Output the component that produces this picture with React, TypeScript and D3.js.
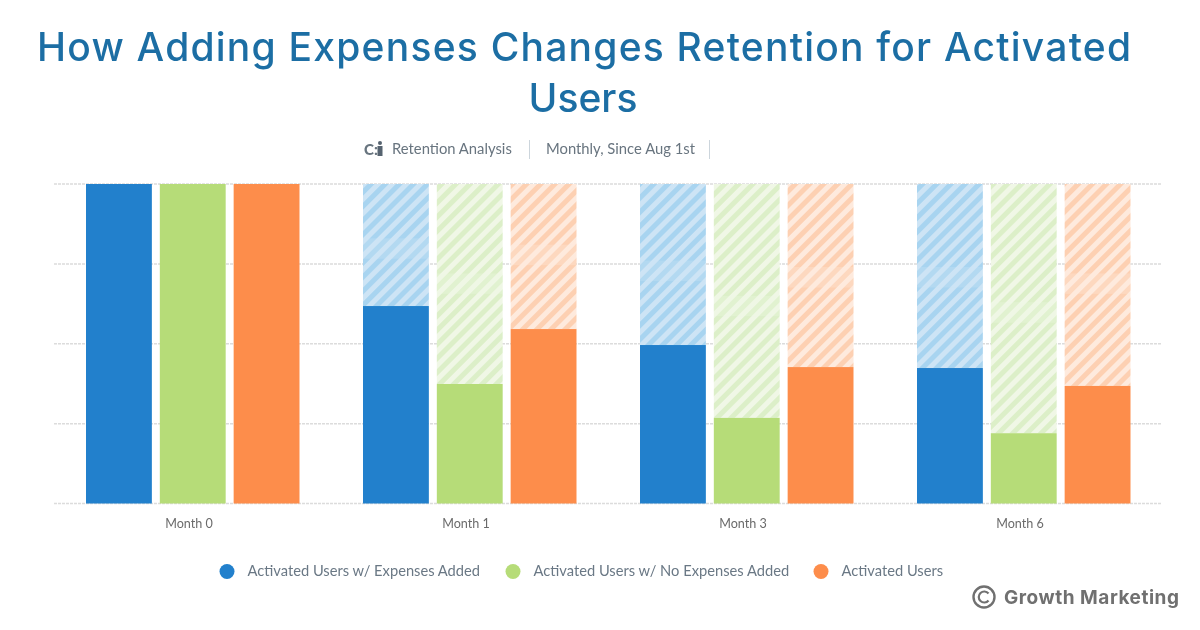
import React from "react";
import * as d3 from "d3";

const months = ["Month 0", "Month 1", "Month 3", "Month 6"];
const seriesNames = [
  "Activated Users w/ Expenses Added",
  "Activated Users w/ No Expenses Added",
  "Activated Users",
];
const seriesColors = ["#2080cc", "#b6dc78", "#fd8d4b"];
const stripeColors = ["#a8d4f0", "#dcefc8", "#fdd0b2"];
const stripeBg = ["#cde4f5", "#f0f7e6", "#feeadd"];
const expensesAdded = [100, 61.8, 49.6, 42.4];
const noExpensesAdded = [100, 37.4, 26.8, 22];
const activatedUsers = [100, 54.6, 42.7, 36.8];
const seriesValues = [expensesAdded, noExpensesAdded, activatedUsers];
// faint retouched bands seen inside the hatched parts (value at band top)
const seamExpenses = [0, 83, 76, 74];
const seamNoExpenses = [0, 72, 65, 63];
const seamActivated = [0, 81, 74, 72];
const seamValues = [seamExpenses, seamNoExpenses, seamActivated];
const seamHeight = 6.4;
const gridValues = [0, 25, 50, 75, 100];
const legendX = [227, 513, 821];

const FONT = "Lato, 'Open Sans', sans-serif";
const TITLE_FONT = "Inter, Lato, sans-serif";

export default function App() {
  const x = d3.scaleBand<string>().domain(months).range([54, 1162]);
  const y = d3.scaleLinear().domain([0, 100]).range([503.5, 184]);
  const inner = d3
    .scaleBand<string>()
    .domain(seriesNames)
    .range([0, 213.5])
    .paddingInner(0.108)
    .paddingOuter(0);

  return (
    <svg
      width={1200}
      height={630}
      viewBox="0 0 1200 630"
      style={{ position: "absolute", left: 0, top: 0, background: "#fff" }}
    >
      <defs>
        {seriesColors.map((_, i) => (
          <pattern
            key={i}
            id={`hatch${i}`}
            width={10}
            height={10}
            patternUnits="userSpaceOnUse"
            patternTransform="rotate(45)"
          >
            <rect width={10} height={10} fill={stripeBg[i]} />
            <rect width={5} height={10} fill={stripeColors[i]} />
          </pattern>
        ))}
        <filter id="soft" x="0" y="0" width="1200" height="630" filterUnits="userSpaceOnUse">
          <feGaussianBlur stdDeviation="0.45" />
        </filter>
      </defs>

      <g filter="url(#soft)">
        <g fill="#1c6ea4" fontFamily={TITLE_FONT} fontWeight={500} fontSize={39} textAnchor="middle">
          <text x={584} y={61} textLength={1094} lengthAdjust="spacing">
            How Adding Expenses Changes Retention for Activated
          </text>
          <text x={583} y={112}>Users</text>
        </g>

        <g fontFamily={FONT} fontSize={14.8} fill="#68747f">
          <text x={364} y={155} fontWeight={900} fontSize={15}>C:</text>
          <circle cx={380} cy={143} r={2} fill="#56646f" />
          <rect x={377.5} y={146} width={5} height={10} fill="#56646f" />
          <text x={392} y={154}>Retention Analysis</text>
          <text x={546} y={154}>Monthly, Since Aug 1st</text>
        </g>
        <line x1={529.5} x2={529.5} y1={140} y2={159} stroke="#ccd5dc" />
        <line x1={709.5} x2={709.5} y1={140} y2={159} stroke="#ccd5dc" />

        {gridValues.map((g) => (
          <line
            key={g}
            x1={54}
            x2={1162}
            y1={y(g)}
            y2={y(g)}
            stroke="#dcdcdc"
            strokeWidth={1.5}
            strokeDasharray="3 1"
          />
        ))}

        {months.map((m, mi) => {
          const groupX = x(m)! + (x.bandwidth() - 214) / 2 + 0.5;
          return (
            <g key={m}>
              {seriesNames.map((s, si) => {
                const v = seriesValues[si][mi];
                const bx = groupX + inner(s)!;
                const seam = seamValues[si][mi];
                return (
                  <g key={s}>
                    {v < 100 && (
                      <rect
                        x={bx}
                        y={y(100)}
                        width={inner.bandwidth()}
                        height={y(v) - y(100)}
                        fill={`url(#hatch${si})`}
                      />
                    )}
                    {seam > 0 && (
                      <rect
                        x={bx}
                        y={y(seam)}
                        width={inner.bandwidth()}
                        height={y(seam - seamHeight) - y(seam)}
                        fill={stripeBg[si]}
                        opacity={0.3}
                      />
                    )}
                    <rect
                      x={bx}
                      y={y(v)}
                      width={inner.bandwidth()}
                      height={y(0) - y(v)}
                      fill={seriesColors[si]}
                    />
                  </g>
                );
              })}
              <text
                x={x(m)! + x.bandwidth() / 2 - 3.5}
                y={528}
                textAnchor="middle"
                fontFamily={FONT}
                fontSize={12.6}
                fill="#6b6b6b"
              >
                {m}
              </text>
            </g>
          );
        })}

        {seriesNames.map((s, i) => (
          <g key={s}>
            <circle cx={legendX[i]} cy={571.5} r={7.5} fill={seriesColors[i]} />
            <text
              x={legendX[i] + 20.5}
              y={576}
              fontFamily={FONT}
              fontSize={14.7}
              fill="#6a7885"
            >
              {s}
            </text>
          </g>
        ))}

        <g fill="#707070">
          <circle cx={984} cy={597} r={10.5} fill="none" stroke="#707070" strokeWidth={2.4} />
          <path d="M988.5 593.5a5.5 5.5 0 1 0 0 7" fill="none" stroke="#707070" strokeWidth={2.2} />
          <text x={1004} y={604} fontFamily={TITLE_FONT} fontWeight={700} fontSize={19} textLength={175}>
            Growth Marketing
          </text>
        </g>
      </g>
    </svg>
  );
}
